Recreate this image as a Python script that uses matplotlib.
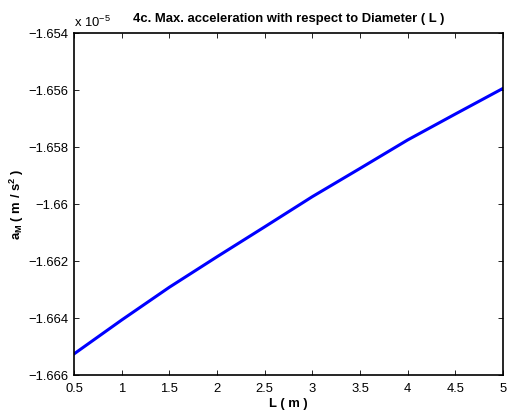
import matplotlib
matplotlib.use("Agg")
import matplotlib.pyplot as plt
from matplotlib.ticker import FuncFormatter

plt.rcParams['font.family'] = ['Liberation Sans', 'DejaVu Sans']
plt.rcParams['mathtext.fontset'] = 'custom'
plt.rcParams['mathtext.rm'] = 'Liberation Sans'
plt.rcParams['mathtext.bf'] = 'Liberation Sans:bold'
plt.rcParams['mathtext.default'] = 'bf'

# diameter L (m) and max acceleration (m/s^2)
L = [0.5, 1.0, 1.5, 2.0, 2.5, 3.0, 3.5, 4.0, 4.5, 5.0]
a_max = [-1.66526e-5, -1.66407e-5, -1.66292e-5, -1.66185e-5, -1.66080e-5,
         -1.65974e-5, -1.65875e-5, -1.65775e-5, -1.65684e-5, -1.65594e-5]

xticks = [0.5, 1, 1.5, 2, 2.5, 3, 3.5, 4, 4.5, 5]
yticks = [-1.666e-5, -1.664e-5, -1.662e-5, -1.66e-5, -1.658e-5, -1.656e-5, -1.654e-5]

fs = 9.4
fig = plt.figure(figsize=(5.19, 4.19), dpi=100)
ax = fig.add_axes([0.1426, 0.105, 0.8266, 0.816])
ax.plot(L, a_max, color='#0000ff', lw=2.2)

ax.set_xlim(0.5, 5)
ax.set_ylim(-1.666e-5, -1.654e-5)
ax.set_xticks(xticks)
ax.set_yticks(yticks)
ax.xaxis.set_major_formatter(FuncFormatter(lambda v, p: f"{v:g}"))
ax.yaxis.set_major_formatter(FuncFormatter(lambda v, p: f"{round(v * 1e5, 6):g}".replace('-', '\u2212')))
ax.tick_params(direction='in', top=True, right=True, labelsize=fs, length=3.5, width=0.6)
ax.tick_params(axis='x', pad=6)
ax.tick_params(axis='y', pad=4)
for s in ax.spines.values():
    s.set_linewidth(1.2)

ax.text(0.0, 1.008, r'x 10$^{\mathregular{-5}}$', transform=ax.transAxes, fontsize=fs, ha='left', va='bottom')
ax.set_title('4c. Max. acceleration with respect to Diameter ( L )', fontsize=fs, fontweight='bold', pad=8)
ax.set_xlabel('L ( m )', fontsize=fs, fontweight='bold', labelpad=2)
ax.set_ylabel(r'a$_M$ ( m / s$^2$ )', fontsize=fs, fontweight='bold', labelpad=2)

fig.savefig('out.png', dpi=100)
